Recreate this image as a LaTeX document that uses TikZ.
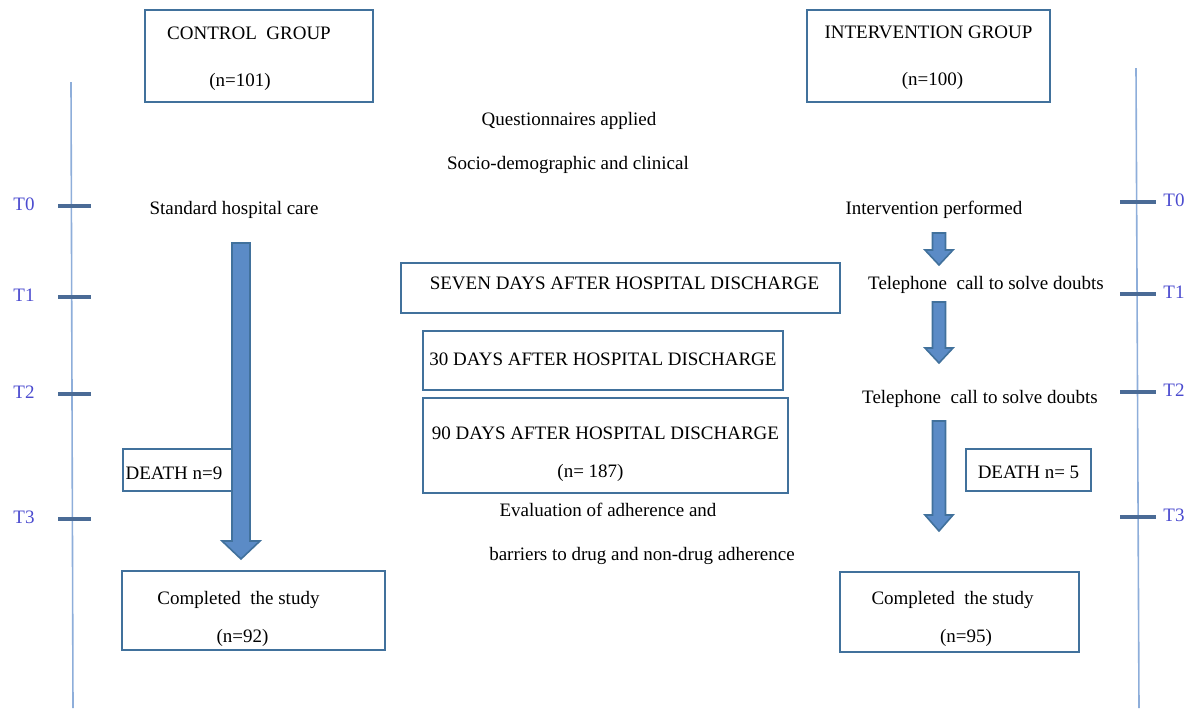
\documentclass[tikz,border=0pt]{standalone}
\usepackage{fontspec}
\setmainfont{Liberation Serif}
\definecolor{boxline}{HTML}{41719C}
\definecolor{arrowfill}{HTML}{5B8BC6}
\definecolor{axisline}{HTML}{8EAEDA}
\definecolor{tickline}{HTML}{4A6B96}
\definecolor{ticktext}{HTML}{4B4BCF}
\begin{document}
\begin{tikzpicture}[x=0.5pt, y=-0.5pt,
	every node/.style={font=\fontsize{9.5}{11.4}\selectfont, inner sep=0pt},
	groupbox/.style={draw=boxline, line width=1pt, fill=white},
	boxtext/.style={align=center, draw=none, fill=none},
	blockarrow/.style={fill=arrowfill, draw=boxline, line width=0.8pt},
	timeline/.style={draw=axisline, line width=0.8pt},
	tickmark/.style={draw=tickline, line width=1.6pt},
	ticklabel/.style={text=ticktext}]
	\useasboundingbox (0,0) rectangle (1195,708);
	\draw[timeline] (71,82) -- (73,708);
	\draw[timeline] (1136,68) -- (1139,708);
	\foreach \t/\yl/\yr in {0/206/202, 1/297/294, 2/394/392, 3/519/517}
	{
		\draw[tickmark] (58,\yl) -- (91,\yl);
		\draw[tickmark] (1120,\yr) -- (1156,\yr);
		\node[ticklabel] (left t\t) at (24,\yl-2) {T\t};
		\node[ticklabel] (right t\t) at (1174,\yr-2) {T\t};
	}
	\node[groupbox, minimum width=114pt, minimum height=46pt,
		label={[boxtext, name=control text, yshift=-1.5pt]center:{CONTROL~~GROUP\hspace*{10pt}\\[12pt](n=101)\hspace*{19pt}}}] (control) at (259,56) {};
	\node[groupbox, minimum width=121.5pt, minimum height=46pt,
		label={[boxtext, name=intervention text, yshift=-1pt]center:{INTERVENTION GROUP\\[12pt]\hspace*{4pt}(n=100)}}] (intervention) at (928.5,56) {};
	\foreach \name/\pos/\labl in {
		questionnaires/{569,121}/{Questionnaires applied},
		socio/{568,165}/{Socio-demographic and clinical},
		standard care/{234,210}/{Standard hospital care},
		performed/{934,210}/{Intervention performed},
		first call/{986,285}/{Telephone~~call to solve doubts},
		second call/{980,399}/{Telephone~~call to solve doubts},
		evaluation/{608,510}/{Evaluation of adherence and},
		barriers/{642,556}/{barriers to drug and non-drug adherence}
	}
	{
		\node (\name) at (\pos) {\labl};
	}
	\node[groupbox, minimum width=219.5pt, minimum height=25pt,
		label={[boxtext, name=seven days text, yshift=2.5pt]center:{\hspace*{4pt}SEVEN DAYS AFTER HOSPITAL DISCHARGE}}] (seven days) at (620.5,288) {};
	\node[groupbox, minimum width=180pt, minimum height=29.5pt,
		label={[boxtext, name=thirty days text, yshift=0.5pt]center:{30 DAYS AFTER HOSPITAL DISCHARGE}}] (thirty days) at (603,360.5) {};
	\node[groupbox, minimum width=182.5pt, minimum height=47.5pt,
		label={[boxtext, name=ninety days text, yshift=-4.5pt]center:{90 DAYS AFTER HOSPITAL DISCHARGE\\[7.6pt](n= 187)\hspace*{15pt}}}] (ninety days) at (605.5,445.5) {};
	\node[groupbox, minimum width=58pt, minimum height=21pt,
		label={[boxtext, name=control death text, yshift=-1.5pt]center:{DEATH n=9\hspace*{7pt}}}] (control death) at (181,470) {};
	\node[groupbox, minimum width=62.5pt, minimum height=21pt,
		label={[boxtext, name=intervention death text, yshift=-1pt]center:{DEATH n= 5}}] (intervention death) at (1028.5,470) {};
	\node[groupbox, minimum width=131.5pt, minimum height=39.5pt,
		label={[boxtext, name=control done text, yshift=-4pt]center:{Completed~~the study\hspace*{15pt}\\[7.6pt](n=92)\hspace*{11pt}}}] (control done) at (253.5,610.5) {};
	\node[groupbox, minimum width=119.5pt, minimum height=40pt,
		label={[boxtext, name=intervention done text, yshift=-3.5pt]center:{Completed~~the study\hspace*{7pt}\\[7.6pt]\hspace*{6.5pt}(n=95)}}] (intervention done) at (959.5,612) {};
	\foreach \cx/\top/\base/\tip/\sw/\hw in {
		241/243/541/559/9/19,
		939/233/250/265/6.5/14,
		939/302/348/363/6.5/14,
		939/421/515/531/6.5/14
	}
	{
		\draw[blockarrow] (\cx-\sw,\top) -- (\cx+\sw,\top) -- (\cx+\sw,\base) -- (\cx+\hw,\base) -- (\cx,\tip) -- (\cx-\hw,\base) -- (\cx-\sw,\base) -- cycle;
	}
\end{tikzpicture}
\end{document}
